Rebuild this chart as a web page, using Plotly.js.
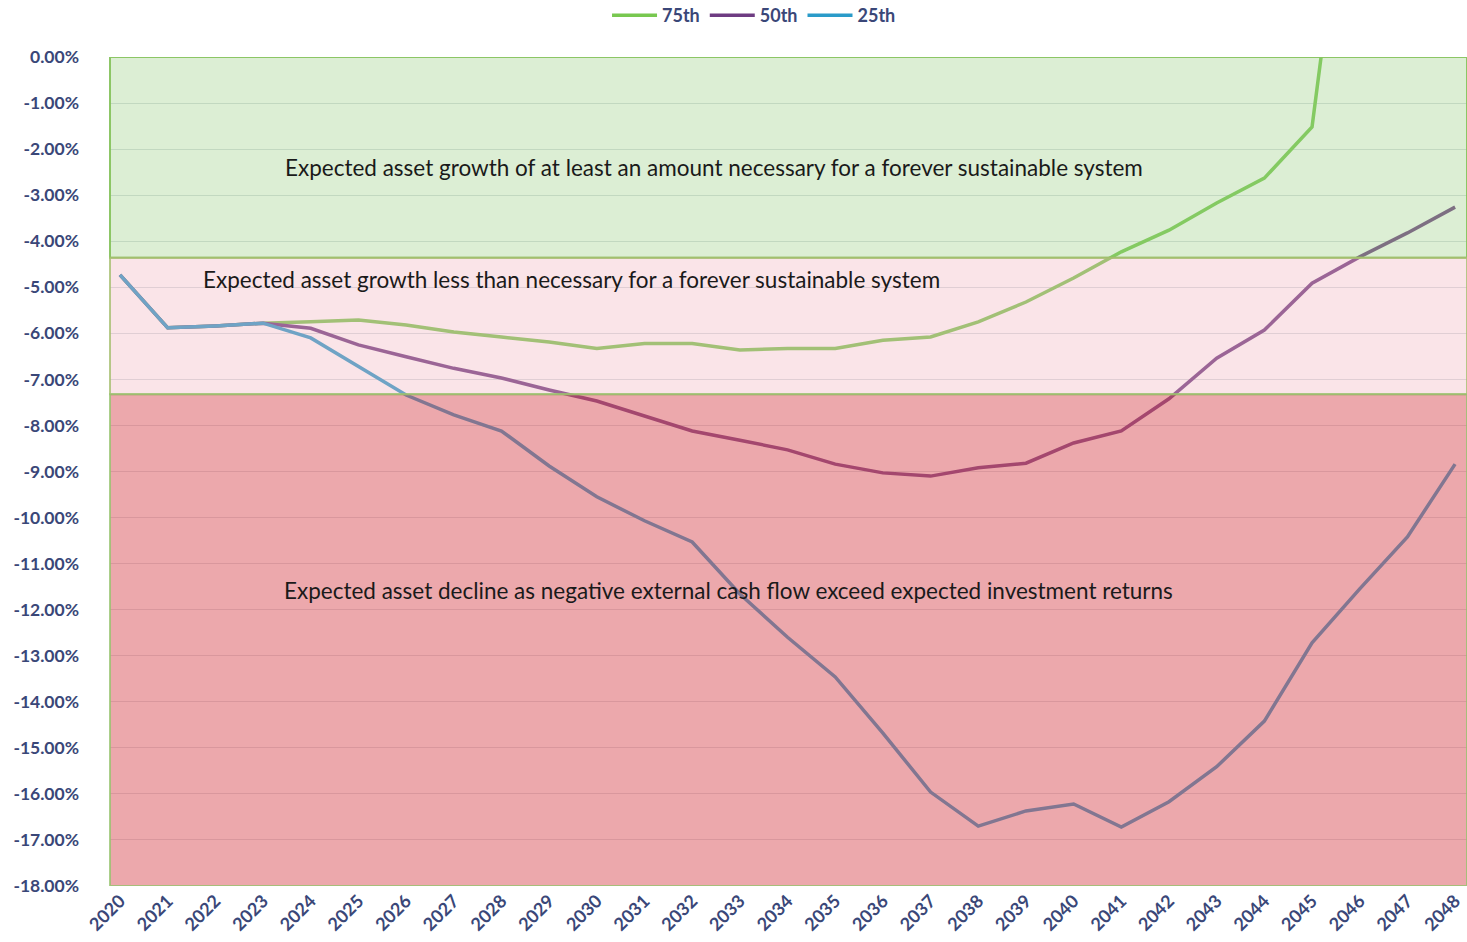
<!DOCTYPE html>
<html>
<head>
<meta charset="utf-8">
<script src="https://cdn.plot.ly/plotly-3.0.1.min.js"></script>
<style>html,body{margin:0;padding:0;background:#fff;}#chart{width:1467px;height:942px;}</style>
</head>
<body>
<div id="chart"></div>
<script>
const years = [2020,2021,2022,2023,2024,2025,2026,2027,2028,2029,2030,2031,2032,2033,2034,2035,2036,2037,2038,2039,2040,2041,2042,2043,2044,2045,2046,2047,2048];
const p75 = [-4.73,-5.88,-5.84,-5.78,-5.75,-5.71,-5.82,-5.97,-6.08,-6.19,-6.33,-6.22,-6.22,-6.36,-6.33,-6.33,-6.15,-6.08,-5.75,-5.32,-4.80,-4.23,-3.76,-3.17,-2.63,-1.52,6.5,11.0,15.0];
const p50 = [-4.73,-5.88,-5.84,-5.78,-5.89,-6.25,-6.51,-6.76,-6.97,-7.23,-7.47,-7.80,-8.12,-8.32,-8.53,-8.84,-9.03,-9.10,-8.92,-8.82,-8.38,-8.12,-7.42,-6.54,-5.93,-4.91,-4.34,-3.82,-3.26];
const p25 = [-4.73,-5.88,-5.84,-5.78,-6.10,-6.73,-7.34,-7.77,-8.12,-8.88,-9.55,-10.07,-10.53,-11.66,-12.60,-13.46,-14.68,-15.96,-16.70,-16.37,-16.22,-16.72,-16.17,-15.41,-14.42,-12.72,-11.55,-10.42,-8.84];
const seriesNames = ['75th','50th','25th'];
const seriesColors = ['#78c850','#6e3c82','#2a9bc9'];
const bandEdges = [0,-4.36,-7.32,-18];
const bandLabels = [
  'Expected asset growth of at least an amount necessary for a forever sustainable system',
  'Expected asset growth less than necessary for a forever sustainable system',
  'Expected asset decline as negative external cash flow exceed expected investment returns'
];
const yTicks = [0,-1,-2,-3,-4,-5,-6,-7,-8,-9,-10,-11,-12,-13,-14,-15,-16,-17,-18];
const yTickText = yTicks.map(v => (v === 0 ? '0.00' : v.toFixed(2)) + '%');

const navy = '#3a4778';
const traces = [p75,p50,p25].map((d,i) => ({
  x: years, y: d, type: 'scatter', mode: 'lines', name: seriesNames[i],
  line: {color: seriesColors[i], width: 3.5}
}));

const bandFill = ['rgba(155,206,132,0.35)','rgba(241,178,189,0.35)','rgba(217,81,89,0.5)'];
const bandLine = ['rgba(135,195,95,0.95)','rgba(165,190,110,0.8)','rgba(150,195,110,0.8)'];
const shapes = bandFill.map((f,i) => ({
  type:'rect', xref:'paper', yref:'y', x0:0, x1:1,
  y0: bandEdges[i], y1: bandEdges[i+1], layer:'above',
  fillcolor: f, line:{color: bandLine[i], width: 2}
}));

const annX = [0.445, 0.340, 0.456];
const annY = [-2.41, -4.84, -11.59];
const annotations = bandLabels.map((t,i) => ({
  xref:'paper', yref:'y', x: annX[i], y: annY[i], text: t, showarrow:false,
  font:{family:'Lato, "Open Sans", sans-serif', size:22.5, color:'#1a1a1a'}
}));

const layout = {
  width:1467, height:942,
  margin:{l:110, r:0, t:57, b:56, autoexpand:false},
  paper_bgcolor:'#ffffff', plot_bgcolor:'#ffffff',
  showlegend:true,
  legend:{orientation:'h', x:0.4746, xanchor:'center', y:1.05, yanchor:'middle', itemwidth:45,
    font:{family:'Lato, sans-serif', size:18, color:navy, weight:'bold'}},
  xaxis:{range:[2019.79,2048.25], tickmode:'array', tickvals:years, ticktext:years.map(String),
    tickangle:-45, showgrid:false, zeroline:false, showline:false, ticks:'', automargin:false,
    tickfont:{family:'Lato, sans-serif', size:18, color:navy, weight:'bold'}},
  yaxis:{range:[-18,0], tickmode:'array', tickvals:yTicks, ticktext:yTickText,
    showgrid:true, gridcolor:'#d8dde0', gridwidth:1, zeroline:false, showline:false, ticks:'', automargin:false,
    ticklabelstandoff:30,
    tickfont:{family:'Lato, sans-serif', size:17.5, color:navy, weight:'bold'}},
  shapes: shapes,
  annotations: annotations
};

Plotly.newPlot('chart', traces, layout, {displayModeBar:false, staticPlot:true});
</script>
</body>
</html>
